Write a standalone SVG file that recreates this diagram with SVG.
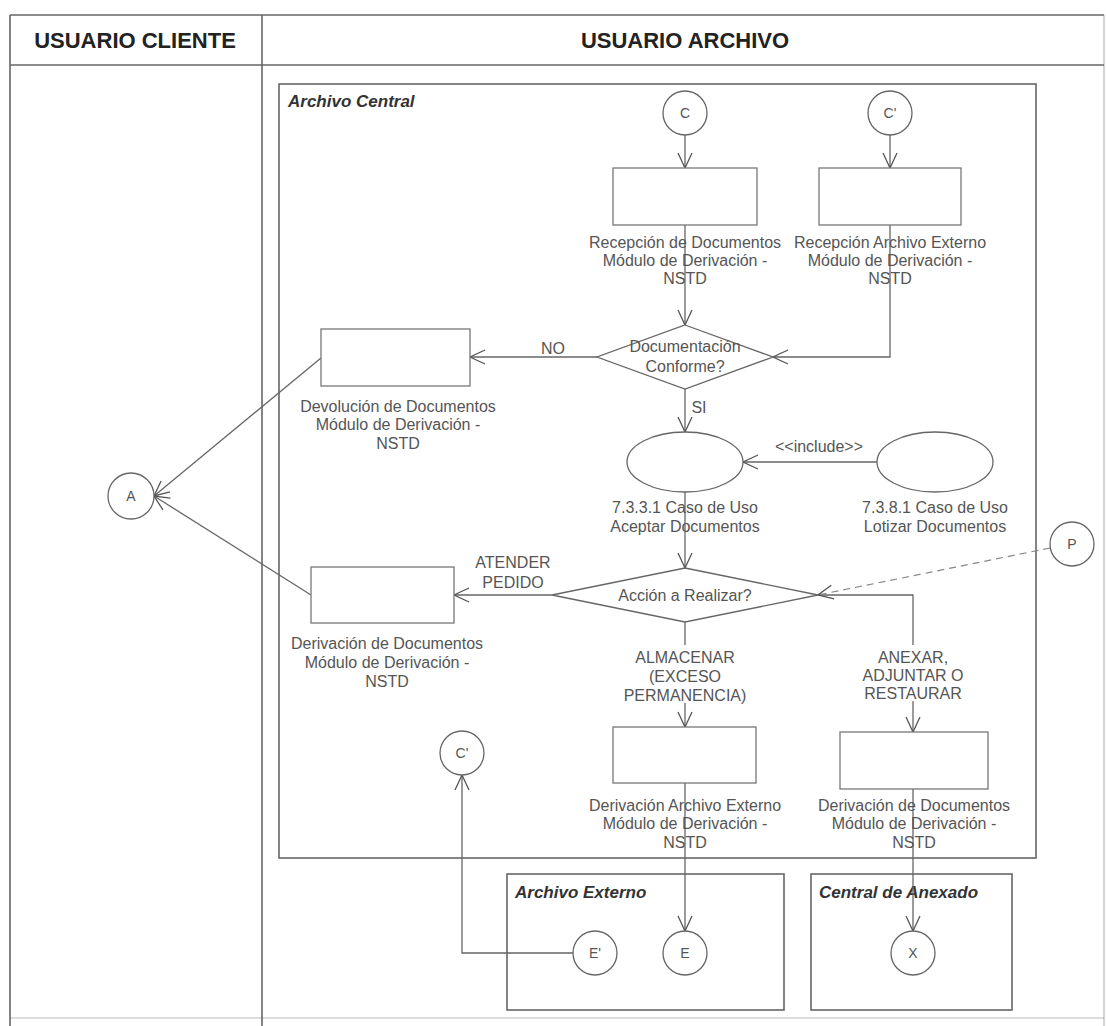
<svg xmlns="http://www.w3.org/2000/svg" width="1106" height="1026" viewBox="0 0 1106 1026">
  <defs>
    <marker id="arrow" viewBox="-1 -9 17 18" refX="15" refY="0" markerWidth="17" markerHeight="18" markerUnits="userSpaceOnUse" orient="auto">
      <path d="M0,-7 L15,0 L0,7" fill="none" stroke="#555" stroke-width="1.3"/>
    </marker>
    <style>
      .frame { fill: none; stroke: #666; stroke-width: 1.6; }
      .lane { font-family: "Liberation Sans", Arial, sans-serif; font-size: 22px; font-weight: bold; fill: #222; text-anchor: middle; }
      .region { fill: none; stroke: #666; stroke-width: 1.6; }
      .rtitle { font-family: "Liberation Sans", Arial, sans-serif; font-size: 17px; font-weight: bold; font-style: italic; fill: #333; }
      .box { fill: #fff; stroke: #777; stroke-width: 1.3; }
      .shape { fill: #fff; stroke: #666; stroke-width: 1.3; }
      .conn { fill: none; stroke: #666; stroke-width: 1.3; }
      .dash { fill: none; stroke: #888; stroke-width: 1.2; stroke-dasharray: 7 5; }
      .lbl { font-family: "Liberation Sans", Arial, sans-serif; font-size: 16px; fill: #555; text-anchor: middle; }
      .sm { font-family: "Liberation Sans", Arial, sans-serif; font-size: 14px; fill: #555; text-anchor: middle; }
    </style>
  </defs>

  <rect width="1106" height="1026" fill="#fff"/>

  <!-- swimlane frame -->
  <g id="lanes">
    <line class="frame" x1="10" y1="15" x2="1104" y2="15"/>
    <line class="frame" x1="10" y1="65" x2="1104" y2="65"/>
    <line class="frame" x1="10" y1="15" x2="10" y2="1026"/>
    <line class="frame" x1="262" y1="15" x2="262" y2="1026"/>
    <line class="frame" x1="1104" y1="15" x2="1104" y2="1026" stroke-opacity="0.35"/>
    <line class="frame" x1="10" y1="1018" x2="1104" y2="1018" stroke-opacity="0.3"/>
    <text class="lane" x="135" y="48">USUARIO CLIENTE</text>
    <text class="lane" x="685" y="48">USUARIO ARCHIVO</text>
  </g>

  <!-- regions -->
  <g id="archivo-central">
    <rect class="region" x="279" y="84" width="757" height="774"/>
    <text class="rtitle" x="288" y="107">Archivo Central</text>
  </g>
  <g id="archivo-externo">
    <rect class="region" x="507" y="874" width="277" height="136"/>
    <text class="rtitle" x="515" y="898">Archivo Externo</text>
  </g>
  <g id="central-anexado">
    <rect class="region" x="811" y="874" width="201" height="136"/>
    <text class="rtitle" x="819" y="898">Central de Anexado</text>
  </g>

  <!-- connectors -->
  <g id="connectors">
    <line class="conn" x1="685" y1="135" x2="685" y2="168" marker-end="url(#arrow)"/>
    <line class="conn" x1="890" y1="135" x2="890" y2="168" marker-end="url(#arrow)"/>
    <line class="conn" x1="685" y1="225" x2="685" y2="325" marker-end="url(#arrow)"/>
    <polyline class="conn" points="890,225 890,357 773,357" marker-end="url(#arrow)"/>
    <line class="conn" x1="597" y1="357" x2="470" y2="357" marker-end="url(#arrow)"/>
    <line class="conn" x1="685" y1="389" x2="685" y2="432" marker-end="url(#arrow)"/>
    <line class="conn" x1="877" y1="462" x2="743" y2="462" marker-end="url(#arrow)"/>
    <line class="conn" x1="685" y1="492" x2="685" y2="568" marker-end="url(#arrow)"/>
    <line class="conn" x1="552" y1="595" x2="454" y2="595" marker-end="url(#arrow)"/>
    <line class="conn" x1="685" y1="622" x2="685" y2="645"/>
    <line class="conn" x1="685" y1="703" x2="685" y2="727" marker-end="url(#arrow)"/>
    <polyline class="conn" points="818,595 913,595 913,645"/>
    <line class="conn" x1="913" y1="701" x2="913" y2="732" marker-end="url(#arrow)"/>
    <line class="dash" x1="1050" y1="548" x2="818" y2="595" marker-end="url(#arrow)"/>
    <line class="conn" x1="321" y1="358" x2="154" y2="496" marker-end="url(#arrow)"/>
    <line class="conn" x1="311" y1="595" x2="154" y2="496" marker-end="url(#arrow)"/>
    <line class="conn" x1="685" y1="783" x2="685" y2="931" marker-end="url(#arrow)"/>
    <line class="conn" x1="913" y1="789" x2="913" y2="931" marker-end="url(#arrow)"/>
    <polyline class="conn" points="573,953 462,953 462,775" marker-end="url(#arrow)"/>
  </g>

  <!-- connector labels -->
  <g id="connector-labels">
    <text class="lbl" x="553" y="354">NO</text>
    <text class="lbl" x="699" y="413" text-anchor="start">SI</text>
    <text class="lbl" x="819" y="452">&lt;&lt;include&gt;&gt;</text>
    <text class="lbl" x="513" y="568">ATENDER</text>
    <text class="lbl" x="513" y="588">PEDIDO</text>
    <text class="lbl" x="685" y="663">ALMACENAR</text>
    <text class="lbl" x="685" y="682">(EXCESO</text>
    <text class="lbl" x="685" y="701">PERMANENCIA)</text>
    <text class="lbl" x="913" y="663">ANEXAR,</text>
    <text class="lbl" x="913" y="681">ADJUNTAR O</text>
    <text class="lbl" x="913" y="699">RESTAURAR</text>
  </g>

  <!-- nodes -->
  <g id="node-c">
    <circle class="shape" cx="685" cy="113" r="22"/>
    <text class="sm" x="685" y="118">C</text>
  </g>
  <g id="node-c-prime">
    <circle class="shape" cx="890" cy="113" r="22"/>
    <text class="sm" x="890" y="118">C'</text>
  </g>
  <g id="node-recepcion-docs">
    <rect class="box" x="613" y="168" width="144" height="57"/>
    <text class="lbl" x="685" y="248">Recepción de Documentos</text>
    <text class="lbl" x="685" y="266">Módulo de Derivación -</text>
    <text class="lbl" x="685" y="284">NSTD</text>
  </g>
  <g id="node-recepcion-externo">
    <rect class="box" x="819" y="168" width="142" height="57"/>
    <text class="lbl" x="890" y="248">Recepción Archivo Externo</text>
    <text class="lbl" x="890" y="266">Módulo de Derivación -</text>
    <text class="lbl" x="890" y="284">NSTD</text>
  </g>
  <g id="node-doc-conforme">
    <polygon class="shape" points="685,325 773,357 685,389 597,357"/>
    <text class="lbl" x="685" y="352">Documentación</text>
    <text class="lbl" x="685" y="372">Conforme?</text>
  </g>
  <g id="node-devolucion">
    <rect class="box" x="321" y="329" width="149" height="57"/>
    <text class="lbl" x="398" y="412">Devolución de Documentos</text>
    <text class="lbl" x="398" y="430">Módulo de Derivación -</text>
    <text class="lbl" x="398" y="449">NSTD</text>
  </g>
  <g id="node-aceptar">
    <ellipse class="shape" cx="685" cy="462" rx="58" ry="30"/>
    <text class="lbl" x="685" y="513">7.3.3.1 Caso de Uso</text>
    <text class="lbl" x="685" y="532">Aceptar Documentos</text>
  </g>
  <g id="node-lotizar">
    <ellipse class="shape" cx="935" cy="462" rx="58" ry="30"/>
    <text class="lbl" x="935" y="513">7.3.8.1 Caso de Uso</text>
    <text class="lbl" x="935" y="532">Lotizar Documentos</text>
  </g>
  <g id="node-a">
    <circle class="shape" cx="131" cy="496" r="23"/>
    <text class="sm" x="131" y="501">A</text>
  </g>
  <g id="node-p">
    <circle class="shape" cx="1072" cy="544" r="22"/>
    <text class="sm" x="1072" y="549">P</text>
  </g>
  <g id="node-accion">
    <polygon class="shape" points="685,568 818,595 685,622 552,595"/>
    <text class="lbl" x="685" y="601">Acción a Realizar?</text>
  </g>
  <g id="node-derivacion-pedido">
    <rect class="box" x="311" y="567" width="143" height="56"/>
    <text class="lbl" x="387" y="649">Derivación de Documentos</text>
    <text class="lbl" x="387" y="668">Módulo de Derivación -</text>
    <text class="lbl" x="387" y="687">NSTD</text>
  </g>
  <g id="node-derivacion-externo">
    <rect class="box" x="613" y="727" width="143" height="56"/>
    <text class="lbl" x="685" y="811">Derivación Archivo Externo</text>
    <text class="lbl" x="685" y="829">Módulo de Derivación -</text>
    <text class="lbl" x="685" y="848">NSTD</text>
  </g>
  <g id="node-derivacion-anexado">
    <rect class="box" x="840" y="732" width="148" height="57"/>
    <text class="lbl" x="914" y="811">Derivación de Documentos</text>
    <text class="lbl" x="914" y="829">Módulo de Derivación -</text>
    <text class="lbl" x="914" y="848">NSTD</text>
  </g>
  <g id="node-c-prime-return">
    <circle class="shape" cx="462" cy="753" r="22"/>
    <text class="sm" x="462" y="758">C'</text>
  </g>
  <g id="node-e-prime">
    <circle class="shape" cx="595" cy="953" r="22"/>
    <text class="sm" x="595" y="958">E'</text>
  </g>
  <g id="node-e">
    <circle class="shape" cx="685" cy="953" r="22"/>
    <text class="sm" x="685" y="958">E</text>
  </g>
  <g id="node-x">
    <circle class="shape" cx="913" cy="953" r="22"/>
    <text class="sm" x="913" y="958">X</text>
  </g>
</svg>
